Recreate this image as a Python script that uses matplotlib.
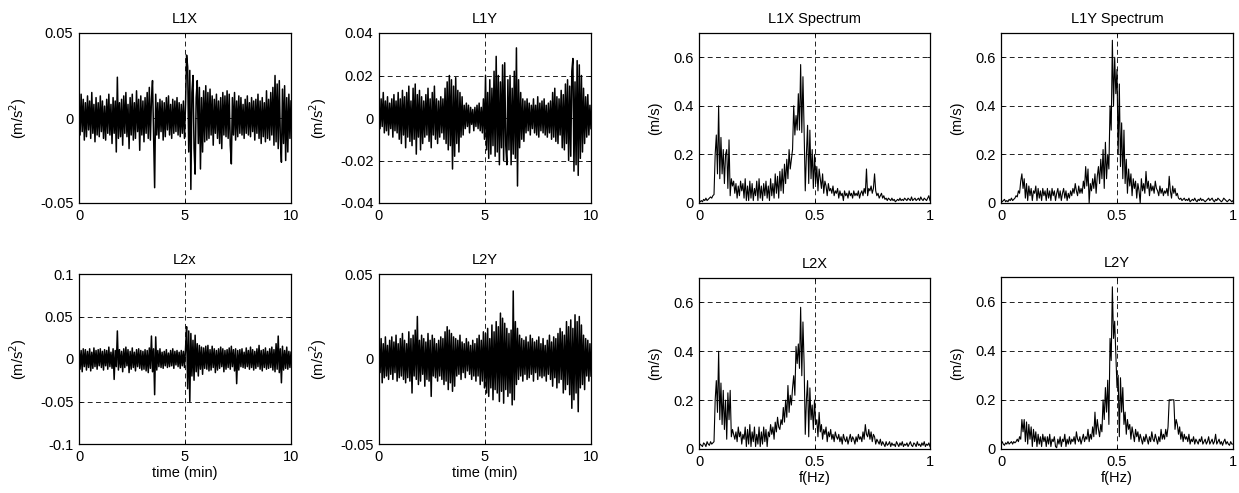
import numpy as np
import matplotlib
matplotlib.use("Agg")
import matplotlib.pyplot as plt

plt.rcParams['font.family'] = ['Liberation Sans', 'DejaVu Sans']

# ---------------- time-domain data (units of 1e-3 m/s^2), t = 0..10 min ----------------
L1X_t = [12, -10, 14, -8, 11, -13, 9, -11, 13, -7, 10, -12, 15, -9, 8, -14, 12, -10, 9, -11,
         13, -8, 10, -12, 7, -13, 11, -9, 14, -10, 8, -15, 12, -9, 10, -20, 24, -12, 9, -11,
         11, -16, 13, -9, 15, -11, 8, -18, 12, -10, 14, -13, 9, -12, 16, -8, 11, -19, 13, -10,
         10, -14, 12, -9, 15, -12, 18, -13, 11, 22, -10, -41, 14, -10, 9, -12, 11, -8, 10, -13,
         9, -11, 12, -7, 13, -10, 8, -12, 11, -9, 10, -8, 12, -10, 9, -11, 8, -9, 10, -12,
         8, 37, 30, -20, 28, -42, 15, 25, -18, -33, 12, 22, -15, 18, -30, 12, -20, 16, -14, 19,
         -13, 15, -12, 17, -10, 13, -16, 11, -9, 14, -12, 10, -15, 12, -18, 15, -10, 13, -11, 16,
         -12, 14, -16, -27, 12, -10, 15, -13, 10, -11, 13, -9, 12, -10, 8, -12, 11, -9, 13, -10,
         9, -11, 12, -8, 10, -13, 11, -9, 14, -12, 10, -15, 12, -11, 9, -14, 16, -12, 11, -13,
         15, -10, 18, -16, 25, -14, 20, -18, 22, -12, -26, 17, -15, 19, -25, 12, -20, 14, -12, 10]

L1Y_t = [6, -5, 9, -4, 12, -7, 8, -6, 10, -8, 7, -5, 9, -9, 11, -6, 8, -7, 12, -10,
         9, -12, 13, -8, 10, -14, 12, -9, 15, -11, 8, -13, 14, -10, 16, -17, 11, -9, 13, -15,
         10, -12, 8, -9, 11, -8, 14, -11, 9, -14, 12, -8, 15, -10, 9, -12, 8, -9, 10, -7,
         9, -10, 14, -12, 17, -15, 20, -13, 18, -24, 15, -18, 19, -12, 13, -16, 12, -9, 10, -8,
         6, -5, 7, -4, 6, -7, 5, -3, 4, -6, 5, -4, 6, -5, 7, -6, 5, -7, 9, -10,
         20, -15, 12, -19, 18, -17, 14, -13, 22, -18, 29, -16, 20, -22, 17, -14, 25, -20, 26, -13,
         -22, 18, -15, 20, -22, 14, -17, 22, -19, 33, -32, 18, -14, 12, -10, 9, -11, 8, -7, 9,
         -6, 7, -8, 6, -5, 9, -7, 6, -8, 10, -9, 7, -6, 8, -7, 9, -8, 6, -9, 7,
         -7, 8, -10, 12, -9, 14, -11, 10, -12, 9, -8, 13, -14, 11, -15, 16, -12, 18, -20, 15,
         -18, 22, 28, -25, 17, -22, 27, -27, 25, -19, 20, -16, 14, -12, 10, -9, 11, -8, 6, -5]

L2X_t = [14, -12, 10, -15, 12, -9, 11, -13, 9, -10, 12, -14, 8, -11, 13, -9, 10, -12, 11, -8,
         12, -10, 9, -13, 11, -8, 10, -12, 14, -9, 8, -11, 12, -24, 10, -9, 33, -13, 11, -10,
         9, -15, 12, -10, 14, -8, 11, -16, 9, -12, 13, -10, 8, -14, 11, -9, 12, -11, 10, -13,
         9, -12, 11, -14, 10, -16, 13, -11, 27, -15, 12, -42, 26, -13, 10, -9, 12, -10, 8, -11,
         9, -8, 11, -10, 7, -9, 10, -8, 12, -11, 9, -7, 10, -9, 8, -11, 10, -8, 9, -10,
         12, 38, -35, 33, -50, 30, -20, 22, -25, 28, -15, 18, -20, 16, -12, 14, -18, 13, -11, 15,
         -12, 16, -14, 11, -13, 15, -10, 12, -16, 10, -13, 12, -11, 14, -9, 12, -15, 10, -12, 11,
         -10, 13, -12, 15, -9, 11, -14, 12, -29, 10, -13, 11, -9, 12, -10, 8, -11, 13, -9, 10,
         -12, 14, -10, 11, -13, 9, -11, 12, -9, 16, -12, 10, -14, 11, -10, 13, -12, 9, -11, 12,
         -10, 14, -13, 11, -15, 18, -12, 27, -16, 12, -28, 15, -13, 10, -11, 14, -12, 9, -10, 8]

L2Y_t = [10, -8, 12, -14, 9, -11, 13, -10, 8, -12, 11, -9, 13, -12, 10, -8, 14, -13, 9, -11,
         12, -10, 15, -12, 11, -14, 9, -11, 16, -13, 12, -20, 14, -10, 17, -12, 25, -15, 11, -13,
         14, -9, 12, -16, 10, -12, 15, -13, 11, -22, 14, -10, 12, -11, 9, -13, 11, -10, 13, -12,
         12, -15, 16, -13, 19, -18, 17, -14, 15, -19, 13, -16, 12, -10, 11, -9, 14, -12, 10, -8,
         9, -11, 12, -7, 10, -9, 8, -12, 11, -10, 9, -13, 12, -10, 14, -15, 11, -13, 16, -17,
         15, -20, 18, -22, 12, -17, 20, -24, 16, -18, 22, -20, 19, -25, 27, -19, 24, -26, 21, -18,
         18, -22, 15, -20, 17, -27, 40, -24, 22, -15, 18, -12, 14, -10, 12, -13, 11, -9, 13, -12,
         10, -11, 14, -9, 12, -13, 10, -8, 11, -12, 13, -10, 9, -11, 12, -10, 8, -13, 11, -9,
         14, -12, 10, -16, 13, -11, 12, -17, 15, -14, 18, -12, 16, -20, 14, -18, 22, -15, 19, -21,
         23, -29, 18, -24, 26, -20, 22, -31, 25, -17, 20, -15, 14, -18, 12, -10, 11, -13, 9, -10]

# ---------------- spectra (units of 0.01 m/s), f = 0..1 Hz ----------------
L1X_f = [1, 0.5, 1, 0.5, 1.5, 1, 2, 1, 1.5, 2, 2.5, 2, 3, 3.5, 20, 28, 12, 40, 10, 27,
         12, 22, 8, 20, 22, 6, 26, 3, 10, 7, 9, 4, 8, 2, 7, 3, 9, 5, 8, 2,
         10, 1, 7, 1, 9, 2, 8, 1, 6, 3, 9, 1, 10, 2, 7, 1, 8, 3, 9, 2,
         7, 1, 10, 3, 8, 2, 12, 4, 11, 2, 13, 5, 14, 4, 16, 8, 18, 10, 22, 14,
         18, 22, 40, 28, 36, 30, 45, 30, 57, 29, 52, 30, 5, 20, 32, 8, 30, 10, 22, 6,
         20, 8, 15, 5, 14, 10, 6, 12, 4, 9, 7, 3, 8, 5, 6, 4, 7, 3, 5, 4,
         6, 2, 5, 3, 4, 1, 5, 3, 4, 2, 5, 3, 4, 2, 5, 3, 4, 3, 5, 2,
         4, 5, 3, 6, 4, 14, 3, 6, 5, 7, 4, 6, 12, 5, 3, 4, 2, 3, 4, 2,
         3, 1.5, 2, 1, 2, 1.5, 1, 2, 1, 1.5, 0.5, 1, 1.5, 1, 2, 1, 1.5, 1, 2, 1.5,
         1, 2, 1.5, 1, 2.5, 1, 1.5, 2, 1, 1.5, 2, 1, 2.5, 1.5, 1, 2, 1.5, 1, 2, 3, 1]

L1Y_f = [1, 0.5, 1, 1.5, 0.5, 1, 0.5, 1.5, 1, 2, 1, 1.5, 2, 3, 2.5, 5, 4, 9, 12, 6,
         10, 2, 8, 1, 7, 3, 6, 1, 5, 4, 7, 1, 6, 2, 5, 1, 6, 3, 5, 1,
         6, 2, 5, 1, 6, 3, 5, 1, 4, 6, 2, 5, 1, 4, 6, 2, 5, 1, 4, 2,
         5, 3, 6, 4, 8, 5, 3, 7, 4, 6, 4, 9, 6, 15, 7, 14, 0, 8, 5, 10,
         6, 12, 4, 11, 15, 8, 18, 10, 22, 6, 25, 10, 20, 14, 40, 30, 67, 40, 60, 45,
         55, 20, 49, 15, 33, 10, 30, 8, 18, 4, 14, 7, 12, 3, 10, 6, 9, 2, 8, 5,
         0, 10, 5, 8, 4, 13, 6, 9, 3, 8, 5, 7, 4, 9, 6, 5, 3, 7, 4, 6,
         3, 5, 4, 6, 3, 11, 5, 2, 7, 4, 6, 3, 4, 2, 1.5, 2, 1, 1.5, 2, 1,
         1.5, 1, 2, 0.5, 1, 1.5, 1, 2, 1, 0.5, 1.5, 1, 2, 1, 1.5, 1, 0.5, 1, 1.5, 2,
         1, 1.5, 2, 1, 0.5, 1.5, 1, 2, 1.5, 1, 0.5, 1, 2, 1.5, 1, 0.5, 1, 1.5, 1, 0.5, 1]

L2X_f = [1, 2, 1.5, 1, 2.5, 2, 1, 3, 2, 1.5, 3, 2, 2.5, 3, 20, 28, 15, 40, 12, 27,
         10, 24, 8, 20, 4, 23, 12, 24, 5, 8, 6, 4, 7, 3, 9, 5, 7, 2, 6, 4,
         9, 1, 8, 2, 10, 1, 7, 3, 9, 1, 6, 2, 9, 1, 7, 2, 9, 3, 8, 1,
         7, 5, 10, 6, 9, 4, 11, 7, 13, 9, 8, 12, 10, 17, 11, 20, 13, 26, 15, 22,
         18, 25, 30, 22, 42, 35, 43, 33, 58, 30, 52, 35, 6, 20, 28, 5, 25, 12, 18, 8,
         20, 10, 12, 5, 15, 7, 10, 4, 8, 6, 9, 3, 7, 5, 8, 4, 6, 3, 7, 5,
         4, 6, 3, 5, 2, 6, 4, 3, 5, 2, 4, 6, 3, 5, 4, 2, 5, 3, 6, 4,
         5, 3, 7, 4, 10, 6, 5, 8, 4, 7, 3, 6, 5, 2, 4, 3, 2, 4, 1.5, 3,
         2, 1, 3, 1.5, 2, 3, 1, 2.5, 1.5, 2, 1, 3, 2, 1, 2.5, 1.5, 3, 1, 2, 1.5,
         2.5, 1, 2, 3, 1.5, 1, 2.5, 2, 1, 3, 1.5, 2, 1, 2.5, 1.5, 3, 1, 2, 1.5, 2.5, 1]

L2Y_f = [2, 3, 2, 1.5, 2.5, 2, 3, 2, 2.5, 3, 2, 3, 2.5, 3, 4, 3, 5, 4, 12, 7,
         12, 3, 11, 2, 10, 4, 9, 1, 8, 3, 7, 1, 6, 2, 5, 1, 6, 3, 5, 1,
         5, 2, 6, 1, 4, 3, 5, 1, 0.5, 4, 2, 5, 1, 4, 3, 6, 1, 4, 2, 5,
         2, 4, 3, 5, 2, 7, 4, 3, 5, 2, 4, 6, 3, 5, 4, 8, 3, 6, 4, 9,
         5, 15, 6, 12, 8, 5, 10, 7, 20, 12, 25, 15, 28, 10, 45, 36, 66, 45, 52, 38,
         25, 30, 5, 29, 15, 25, 10, 15, 6, 12, 8, 10, 4, 9, 6, 3, 8, 5, 7, 3,
         6, 4, 2, 5, 3, 6, 4, 2, 5, 3, 7, 4, 3, 6, 4, 2, 5, 3, 8, 4,
         6, 4, 8, 5, 9, 20, 20, 20, 20, 20, 8, 12, 10, 6, 9, 4, 7, 3, 6, 4,
         5, 3, 6, 2, 4, 3, 5, 2, 4, 3, 2, 4, 3, 5, 2, 3, 4, 2, 3, 5,
         2, 3, 4, 2, 3, 6, 2, 3, 4, 2, 3, 1.5, 3, 4, 2, 3, 2, 1.5, 3, 2, 2]

time_titles = ["L1X", "L1Y", "L2x", "L2Y"]
time_ylims = [0.05, 0.04, 0.1, 0.05]
time_yticks = [[-0.05, 0, 0.05], [-0.04, -0.02, 0, 0.02, 0.04],
               [-0.1, -0.05, 0, 0.05, 0.1], [-0.05, 0, 0.05]]
time_yticklabels = [["-0.05", "0", "0.05"], ["-0.04", "-0.02", "0", "0.02", "0.04"],
                    ["-0.1", "-0.05", "0", "0.05", "0.1"], ["-0.05", "0", "0.05"]]
spec_titles = ["L1X Spectrum", "L1Y Spectrum", "L2X", "L2Y"]
spec_yticks = [0, 0.2, 0.4, 0.6]
spec_yticklabels = ["0", "0.2", "0.4", "0.6"]

fig = plt.figure(figsize=(12.39, 4.93), dpi=100)
W, H = 1239, 493

def ax_at(l, t, r, b):
    return fig.add_axes([l / W, 1 - b / H, (r - l) / W, (b - t) / H])

time_boxes = [(79, 33, 291, 203), (379, 33, 591, 203), (79, 274, 291, 444), (379, 274, 591, 444)]
spec_boxes = [(699, 33, 930, 203), (1001, 33, 1233, 203), (699, 278, 930, 449), (1001, 277, 1233, 449)]
time_data = [L1X_t, L1Y_t, L2X_t, L2Y_t]
spec_data = [L1X_f, L1Y_f, L2X_f, L2Y_f]

FS = 10.5
grid_kw = dict(color='#222222', linestyle=(0, (5, 3.5)), linewidth=0.7)

def style(ax):
    ax.tick_params(direction='in', length=2.5, width=0.6, labelsize=FS, top=True, right=True, pad=4)
    for s in ax.spines.values():
        s.set_linewidth(0.9)

for k in range(4):
    ax = ax_at(*time_boxes[k])
    y = np.array(time_data[k]) * 1e-3
    t = np.linspace(0, 10, len(y))
    ax.plot(t, y, color='black', linewidth=1.1)
    ax.set_xlim(0, 10)
    ax.set_ylim(-time_ylims[k], time_ylims[k])
    ax.set_xticks([0, 5, 10])
    ax.set_xticklabels(["0", "5", "10"])
    ax.set_yticks(time_yticks[k])
    ax.set_yticklabels(time_yticklabels[k])
    ax.grid(True, **grid_kw)
    ax.set_title(time_titles[k], fontsize=FS, pad=7)
    ax.set_ylabel("(m/s$^2$)", fontsize=FS, labelpad=8)
    if k >= 2:
        ax.set_xlabel("time (min)", fontsize=FS, labelpad=2)
    style(ax)

for k in range(4):
    ax = ax_at(*spec_boxes[k])
    y = np.array(spec_data[k]) * 0.01
    f = np.linspace(0, 1, len(y))
    ax.plot(f, y, color='black', linewidth=0.8)
    ax.set_xlim(0, 1)
    ax.set_ylim(0, 0.7)
    ax.set_xticks([0, 0.5, 1])
    ax.set_xticklabels(["0", "0.5", "1"])
    ax.set_yticks(spec_yticks)
    ax.set_yticklabels(spec_yticklabels)
    ax.grid(True, **grid_kw)
    ax.set_title(spec_titles[k], fontsize=FS, pad=7)
    ax.set_ylabel("(m/s)", fontsize=FS, labelpad=8)
    if k >= 2:
        ax.set_xlabel("f(Hz)", fontsize=FS, labelpad=2)
    style(ax)

fig.savefig("out.png", dpi=100)
